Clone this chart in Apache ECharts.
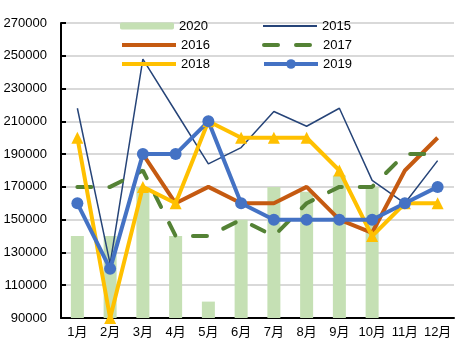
<!DOCTYPE html>
<html><head><meta charset="utf-8">
<script src="https://cdn.jsdelivr.net/npm/echarts@6/dist/echarts.min.js"></script>
<style>html,body{margin:0;padding:0;background:#fff}#c{width:473px;height:355px}</style>
</head><body><div id="c"></div>
<script>
var categories = ['1月','2月','3月','4月','5月','6月','7月','8月','9月','10月','11月','12月'];
var s2020 = [140000,140000,170000,140000,100000,150000,170000,167000,177000,170000,null,null];
var s2015 = [218000,123000,248000,216000,184000,194000,216000,207000,218000,174000,160000,186000];
var s2016 = [null,null,190000,160000,170000,160000,160000,170000,150000,142000,180000,200000];
var s2017 = [170000,170000,180000,140000,140000,150000,140000,160000,170000,170000,190000,190000];
var s2018 = [200000,90000,170000,160000,210000,200000,200000,200000,180000,140000,160000,160000];
var s2019 = [160000,120000,190000,190000,210000,160000,150000,150000,150000,150000,160000,170000];
var yMin = 90000, yMax = 270000, yStep = 20000;

var font = 'Liberation Sans, Noto Sans CJK SC, sans-serif';
var chart = echarts.init(document.getElementById('c'), null, {renderer:'canvas'});
var noSym = {opacity:0};
function lg(left, top, item, ih) {
  return {orient:'vertical', left:left, top:top, padding:0, itemWidth:54, itemHeight:ih, itemGap:0,
    textStyle:{fontFamily:font, fontSize:13, color:'#000', lineHeight:16}, data:[item]};
}
chart.setOption({
  animation:false,
  textStyle:{fontFamily:font},
  legend:[
    lg(120, 18, '2020', 7),
    lg(120, 37, {name:'2016', itemStyle:noSym, lineStyle:{width:4}}, 12),
    lg(120, 56, {name:'2018', itemStyle:noSym, lineStyle:{width:4}}, 12),
    lg(262, 18, {name:'2015', itemStyle:noSym, lineStyle:{width:2}}, 12),
    lg(262, 37, {name:'2017', itemStyle:noSym, lineStyle:{width:4}}, 12),
    lg(262, 56, {name:'2019', lineStyle:{width:4}}, 12)
  ],
  grid:{left:61, right:19, top:23, bottom:37, containLabel:false},
  xAxis:{type:'category', data:categories, boundaryGap:true,
    axisLine:{lineStyle:{color:'#000', width:2}},
    axisTick:{inside:true, length:5, lineStyle:{color:'#000', width:2}},
    axisLabel:{color:'#000', fontSize:13, fontFamily:font, margin:8, interval:0}},
  yAxis:{type:'value', min:yMin, max:yMax, interval:yStep,
    axisLine:{show:true, lineStyle:{color:'#000', width:2}},
    axisTick:{show:true, inside:true, length:5, lineStyle:{color:'#000', width:2}},
    splitLine:{lineStyle:{color:'#d9d9d9', width:2}},
    axisLabel:{color:'#000', fontSize:13, fontFamily:font, margin:14, formatter:function(v){return String(v);}}},
  series:[
    {name:'2020', type:'bar', data:s2020, barWidth:13, itemStyle:{color:'#c5e0b4'}},
    {name:'2015', type:'line', data:s2015, symbol:'none', connectNulls:false,
      lineStyle:{color:'#264478', width:1.5}, itemStyle:{color:'#264478'}},
    {name:'2016', type:'line', data:s2016, symbol:'none',
      lineStyle:{color:'#c55a11', width:4}, itemStyle:{color:'#c55a11'}},
    {name:'2017', type:'line', data:s2017, symbol:'none',
      lineStyle:{color:'#548235', width:4, type:[14,18], cap:'round'}, itemStyle:{color:'#548235'}},
    {name:'2018', type:'line', data:s2018, symbol:'triangle', symbolSize:12,
      lineStyle:{color:'#ffc000', width:4}, itemStyle:{color:'#ffc000'}},
    {name:'2019', type:'line', data:s2019, symbol:'circle', symbolSize:12,
      lineStyle:{color:'#4472c4', width:4}, itemStyle:{color:'#4472c4'}}
  ]
});
</script></body></html>
